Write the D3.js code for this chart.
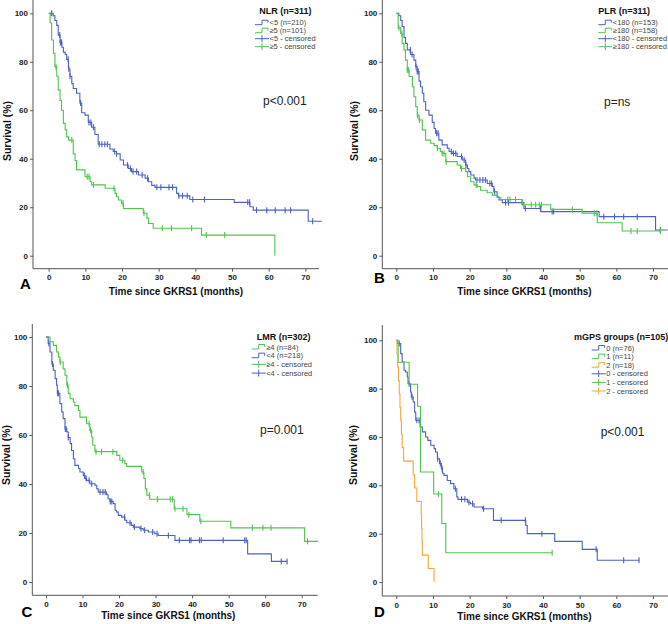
<!DOCTYPE html>
<html><head><meta charset="utf-8">
<script src="https://cdn.jsdelivr.net/npm/d3@7"></script>
<style>body{margin:0;background:#fff} svg{display:block;font-family:Arial,"Liberation Sans",sans-serif}</style>
</head><body><svg id="c" width="668" height="624"></svg>
<script>
// ---------- DATA ----------
const xTicks = [0,10,20,30,40,50,60,70];
const yTicks = [0,20,40,60,80,100];

// Panel A: NLR
const nlrLow = [[0,100],[1.2,99],[1.7,97],[2.2,95],[2.6,91],[3.1,88],[3.6,86],[4,84],[4.5,83],[4.9,81],[5.4,77],[5.8,74],[6.3,71],[6.7,69],[7.6,67],[8.5,63],[9,59],[9.9,58],[10.8,55],[11.7,53],[12.6,50],[13.5,46],[16.7,44],[17.6,43],[18.5,42],[19.5,39.5],[20.4,37.4],[21.7,36],[22.6,34.7],[24.5,33.3],[26.3,32],[27.2,30.5],[28.1,29],[29,28.2],[34.9,25.7],[35.4,24.7],[38.5,23.2],[50.6,22],[54.9,20.2],[55.8,18.8],[70.8,14.2]];
const nlrLowCens = [0.8,3.0,3.2,3.5,5.3,5.5,5.8,8.7,11.0,11.5,12.2,13.8,14.5,15.3,16.0,18.0,18.5,21.5,22.3,23.0,24.0,25.5,27.0,29.5,30.6,32.8,33.8,35.5,36.5,37.8,39.3,42.5,54.3,54.8,56.7,59.5,61.8,64.5,66.0,72.0];
const nlrHigh = [[0,100],[0.4,96],[0.8,89],[1.3,83.5],[1.7,78],[2.2,74],[2.6,68.4],[3.1,64],[3.5,60],[4,54.6],[4.5,51.9],[4.9,49],[5.4,47.7],[6.7,42],[7.2,39.3],[7.6,35.4],[9.9,32.6],[11.3,30.5],[11.7,29.2],[15.4,27.8],[18.1,25.7],[18.5,24.3],[19,23],[19.9,21.6],[20.4,19.5],[25.8,17.5],[26.8,15.5],[27.2,13.3],[28.5,11.3],[41.7,8.5],[61.7,0]];
const nlrHighCens = [2.0,6.3,10.5,11.0,12.2,17.8,20.3,26.0,31.0,33.5,39.0,43.0,48.0];

// Panel B: PLR
const plrLow = [[0,100],[0.7,99],[1.2,97],[1.6,94.5],[2.1,90],[2.5,87.6],[3,84.9],[3.9,83],[4.8,80.7],[5.3,78],[5.7,76],[6.2,72],[6.6,69.7],[7.1,67],[7.5,63.5],[8,60],[8.9,58],[9.8,55],[10.3,52.5],[10.7,50.5],[11.6,47.7],[12.5,45.7],[13.9,44.3],[14.4,43],[15.2,42.2],[16.6,40.9],[18,39.5],[18.9,37.4],[19.4,36],[19.8,34.7],[20.3,33.3],[21.2,32],[21.6,31.2],[24.8,29.8],[26.2,28.5],[26.6,26.4],[27.5,24.3],[28,23],[28.9,21.9],[34.8,19.5],[39.4,18.2],[55.3,16.1],[70.7,10.6]];
const plrLowCens = [3.8,4.3,5.4,5.7,6.0,11.0,11.4,15.0,15.6,16.2,17.8,18.5,19.0,22.0,22.8,23.6,24.3,25.5,26.0,26.8,29.8,30.6,34.3,35.2,39.3,42.5,42.9,56.6,59.5,62.0,65.7,72.0];
const plrHigh = [[0,100],[0.5,94],[1.2,91.7],[1.6,87.6],[2.1,84.9],[2.5,80.7],[3,76.6],[3.5,73.9],[4.4,69.7],[4.8,65.6],[5.3,61.5],[5.7,58],[6.2,56],[7.1,51.9],[8,47.7],[9.4,46.4],[10.3,45.4],[11.2,44.3],[12,43],[12.5,42.2],[13.5,38.8],[16.6,37.4],[17.5,36],[18.9,34.7],[19.4,32.6],[20.3,30.5],[21.2,29.2],[22.1,28.5],[23,27],[24.8,26],[26.2,25],[27.5,24],[28.5,23.2],[34.4,21.0],[42.1,19.1],[50.7,17.5],[54.8,13.6],[61.6,10.2]];
const plrHighCens = [0.7,1.5,3.0,3.3,5.8,6.3,11.2,12.5,13.0,13.6,17.8,21.8,30.4,31.0,32.5,36.8,38.0,39.0,39.6,48.0,54.0,54.7,64.0,65.7,72.0];

// Panel C: LMR
const lmrHigh = [[0,100],[1.1,98],[2,96.6],[2.9,93.9],[3.4,91.8],[3.8,89.8],[4.7,87],[5.2,84.4],[5.7,80.3],[6.1,77],[6.6,74.8],[7.5,73.5],[7.9,72],[8.9,70],[9.3,67.3],[11.1,64.6],[12,61.9],[12.5,59.2],[12.8,55.8],[13.4,53.2],[19.4,51.7],[20.2,49.7],[21.6,48.3],[22.1,47.2],[26.2,44.9],[26.8,42.2],[27.2,38],[27.6,35.4],[28.4,33.8],[35.1,29.9],[38.6,27.5],[42.1,24.8],[50.6,22.1],[70.8,16.6]];
const lmrHighCens = [3.9,5.9,11.8,12.2,13.7,15.2,18.3,21.0,26.6,28.3,30.5,34.0,34.6,35.3,37.5,39.1,42.4,56.5,59.4,61.6,71.6];
const lmrLow = [[0,100],[0.6,97.3],[1.1,93.9],[1.6,89],[2,86.4],[2.5,83],[2.9,80.3],[3.1,77],[3.8,72.8],[4.3,69.4],[4.7,66.7],[5.2,62.5],[5.7,61.2],[6.1,59],[6.6,56.5],[7,53.7],[7.5,50.3],[7.9,47.6],[8.9,46.3],[9.3,44.9],[10.2,43.5],[10.7,42.2],[11.1,41.5],[12,40.1],[13.4,39.5],[13.9,38],[14.3,36.7],[16.6,35.6],[17,34],[17.5,32.9],[18.4,32],[18.9,29.3],[19.3,28.6],[19.8,27.2],[20.7,26.5],[21.6,25.2],[22.1,24.2],[23.4,23.1],[23.9,22.4],[25.7,21.8],[26.6,21.1],[28,20.4],[29.8,19.7],[30.7,19],[35.3,17],[55.2,11.5],[61.7,8.4]];
const lmrLowCens = [0.8,1.8,3.2,3.4,5.3,5.5,6.1,10.5,11.0,11.8,12.5,14.8,15.6,16.2,17.6,18.0,21.5,23.0,24.2,26.0,27.0,29.2,30.4,33.5,36.5,39.3,39.7,42.0,42.5,48.5,54.4,54.8,64.4,66.0];

// Panel D: mGPS
const mgps0 = [[0,100],[0.3,98.7],[1.2,94.5],[1.6,91],[2.1,87.6],[2.5,86.9],[3,84.8],[3.2,82],[3.9,78.6],[4.1,76.6],[4.6,74.5],[5,70.3],[5.3,66.9],[6.5,64.1],[7.1,62.1],[8,60],[8.6,58.6],[9.4,56.6],[10.3,55.2],[10.7,53.8],[11.2,51],[11.8,49],[12.3,46.9],[12.6,45],[13,44.1],[13.9,42],[14.8,40.7],[15.7,38.6],[16.5,35.2],[16.8,34.2],[19.4,33],[20.2,32.4],[21.2,31],[23.5,30.3],[26.5,25.5],[35.3,23.4],[35.7,20],[43.2,16.8],[50.7,13.5],[54.8,9]];
const mgps0Cens = [0.8,3.5,4.3,5.6,6.2,11.3,12.0,12.5,16.1,17.8,18.7,19.8,20.8,23.8,28.6,35.2,39.7,54.5,62.0,66.2];
const mgps1 = [[0,100],[0.5,90.9],[3.5,81.8],[5.8,72.7],[6.6,45.5],[10.2,36.4],[12.4,24.2],[13.5,12.1]];
const mgps1Cens = [11.5,42.5];
const mgps2 = [[0,100],[0.2,94.4],[0.4,88.9],[0.6,83.3],[0.8,77.8],[1.0,72.2],[1.2,66.7],[1.4,61.1],[1.6,55.6],[2.0,50],[4.6,44.4],[5.0,38.9],[5.6,33.3],[6.8,27.8],[6.9,22.2],[7.0,16.7],[7.1,11.1],[8.7,5.6],[10.3,0]];
const mgps2Cens = [];

// ---------- DRAW ----------
const BLUE = "#4a62c2", GREEN = "#4ec44e", ORANGE = "#f6a636";
const svg = d3.select("#c");

const panels = [
  {letter:"A", x0:48.7, x70:305.3, y0:255.7, y100:13.3, axX:33, axY:268.7, axTop:0, axRight:319,
   letterPos:[20,289], xTitle:[176,295], yTitle:[7,131], p:["p<0.001",263,105],
   leg:{title:"NLR (n=311)", tx:259.3, ty:13.5, sx:255, y0:22.7, dy:8},
   series:[
     {name:"<5 (n=210)", c:BLUE, steps:nlrLow, cens:nlrLowCens, end:74.5},
     {name:"≥5 (n=101)", c:GREEN, steps:nlrHigh, cens:nlrHighCens, end:61.7}],
   censLabels:["<5 - censored","≥5 - censored"]},
  {letter:"B", x0:396.3, x70:653, y0:255.7, y100:13.3, axX:382.3, axY:268.7, axTop:0, axRight:668,
   letterPos:[374,283], xTitle:[524.5,295], yTitle:[354,131], p:["p=ns",604,106],
   leg:{title:"PLR (n=311)", tx:598.3, ty:13.5, sx:598.3, y0:22.7, dy:8},
   series:[
     {name:"<180 (n=153)", c:BLUE, steps:plrLow, cens:plrLowCens, end:74},
     {name:"≥180 (n=158)", c:GREEN, steps:plrHigh, cens:plrHighCens, end:72.2}],
   censLabels:["<180 - censored","≥180 - censored"]},
  {letter:"C", x0:46, x70:301.7, y0:582, y100:337, axX:32.3, axY:595.3, axTop:324, axRight:317.7,
   letterPos:[21.5,617], xTitle:[168.3,619], yTitle:[6.5,455], p:["p=0.001",260,434],
   leg:{title:"LMR (n=302)", tx:256.7, ty:339.5, sx:251.7, y0:347, dy:8.7},
   series:[
     {name:"≥4 (n=84)", c:GREEN, steps:lmrHigh, cens:lmrHighCens, end:74.5},
     {name:"<4 (n=218)", c:BLUE, steps:lmrLow, cens:lmrLowCens, end:66}],
   censLabels:["≥4 - censored","<4 - censored"]},
  {letter:"D", x0:396.3, x70:653, y0:582, y100:340.3, axX:382.3, axY:596, axTop:325, axRight:668,
   letterPos:[374,617], xTitle:[524.5,620], yTitle:[353,455], p:["p<0.001",600.7,436],
   leg:{title:"mGPS groups (n=105)", tx:574, ty:339.5, sx:591.7, y0:348, dy:8.6},
   series:[
     {name:"0 (n=76)", c:BLUE, steps:mgps0, cens:mgps0Cens, end:66.2},
     {name:"1 (n=11)", c:GREEN, steps:mgps1, cens:mgps1Cens, end:42.5},
     {name:"2 (n=18)", c:ORANGE, steps:mgps2, cens:mgps2Cens, end:10.3}],
   censLabels:["0 - censored","1 - censored","2 - censored"]}
];

function survAt(steps, t){
  let s = steps[0][1];
  for (const d of steps) { if (d[0] <= t) s = d[1]; else break; }
  return s;
}

panels.forEach(p => {
  const x = d3.scaleLinear().domain([0,70]).range([p.x0,p.x70]);
  const y = d3.scaleLinear().domain([0,100]).range([p.y0,p.y100]);
  const g = svg.append("g");
  const axc = "#555";

  g.append("line").attr("x1",p.axX).attr("x2",p.axX).attr("y1",p.axTop).attr("y2",p.axY)
    .attr("stroke",axc).attr("stroke-width",1);
  g.append("line").attr("x1",p.axX).attr("x2",p.axRight).attr("y1",p.axY).attr("y2",p.axY)
    .attr("stroke",axc).attr("stroke-width",1);

  const ya = g.append("g").attr("transform",`translate(${p.axX},0)`)
    .call(d3.axisLeft(y).tickValues(yTicks).tickSize(3).tickPadding(2));
  const xa = g.append("g").attr("transform",`translate(0,${p.axY})`)
    .call(d3.axisBottom(x).tickValues(xTicks).tickSize(3).tickPadding(3));
  [ya,xa].forEach(a => {
    a.select(".domain").remove();
    a.selectAll("line").attr("stroke",axc);
    a.selectAll("text").attr("font-size","8px").attr("font-weight","bold").attr("fill","#222")
      .attr("font-family","Arial, 'Liberation Sans', sans-serif");
  });

  const line = d3.line().x(d=>x(d[0])).y(d=>y(d[1])).curve(d3.curveStepAfter);
  p.series.forEach(s => {
    const pts = s.steps.slice();
    const last = pts[pts.length-1];
    if (s.end > last[0]) pts.push([s.end, last[1]]);
    g.append("path").attr("d", line(pts)).attr("fill","none").attr("stroke", s.c).attr("stroke-width",1.1);
    g.selectAll(null).data(s.cens).enter().append("line")
      .attr("x1", t=>x(t)).attr("x2", t=>x(t))
      .attr("y1", t=>y(survAt(s.steps,t))-3).attr("y2", t=>y(survAt(s.steps,t))+3)
      .attr("stroke", s.c).attr("stroke-width",1.1);
  });

  g.append("text").attr("x",p.xTitle[0]).attr("y",p.xTitle[1]).attr("text-anchor","middle")
    .attr("font-size","10px").attr("font-weight","bold").attr("fill","#111").text("Time since GKRS1 (months)");
  g.append("text").attr("transform",`translate(${p.yTitle[0]},${p.yTitle[1]}) rotate(-90)`)
    .attr("text-anchor","middle").attr("dy","0.35em")
    .attr("font-size","10.5px").attr("font-weight","bold").attr("fill","#111").text("Survival (%)");
  g.append("text").attr("x",p.letterPos[0]).attr("y",p.letterPos[1])
    .attr("font-size","15px").attr("font-weight","bold").attr("fill","#000").text(p.letter);
  g.append("text").attr("x",p.p[1]).attr("y",p.p[2])
    .attr("font-size","12px").attr("fill","#222").text(p.p[0]);

  const L = p.leg;
  g.append("text").attr("x",L.tx).attr("y",L.ty).attr("font-size","9px").attr("font-weight","bold")
    .attr("fill","#111").text(L.title);
  const rows = p.series.map(s=>({type:"line", c:s.c, label:s.name}))
    .concat(p.series.map((s,i)=>({type:"cens", c:s.c, label:p.censLabels[i]})));
  rows.forEach((r,i) => {
    const yy = L.y0 + i*L.dy;
    if (r.type === "line") {
      g.append("path").attr("d",`M${L.sx},${yy+2}H${L.sx+7}V${yy-2.5}H${L.sx+13}V${yy}`)
        .attr("fill","none").attr("stroke",r.c).attr("stroke-width",1);
    } else {
      g.append("path").attr("d",`M${L.sx},${yy}H${L.sx+14}M${L.sx+7},${yy-3.5}V${yy+3.5}`)
        .attr("fill","none").attr("stroke",r.c).attr("stroke-width",1);
    }
    g.append("text").attr("x",L.sx+14.5).attr("y",yy).attr("dy","0.35em")
      .attr("font-size","7.5px").attr("fill","#444").text(r.label);
  });
});
</script>
</body></html>
